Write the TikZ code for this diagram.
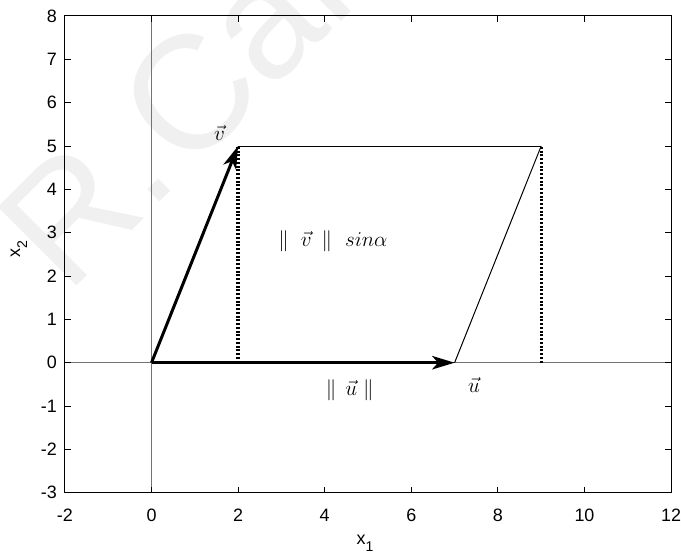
\documentclass[tikz,border=0pt]{standalone}
\usepackage{fontspec}
\newfontfamily\plotfont{Liberation Sans}
\usetikzlibrary{arrows.meta}
\begin{document}
\begin{tikzpicture}[x=0.866cm,y=0.8668cm,
  vecline/.style={line width=0.06cm,-{Stealth[length=0.45cm,width=0.27cm,inset=0.12cm]}},
  thinline/.style={line width=0.02cm},
  axisline/.style={line width=0.02cm,black!55},
  dotline/.style={line width=0.065cm,dash pattern=on 0.04cm off 0.035cm},
  ticklab/.style={font=\plotfont\fontsize{10.2}{12}\selectfont,inner sep=0pt},
  mathlab/.style={font=\fontsize{13}{15}\selectfont,inner sep=0pt},
  wmark/.style={rotate=45,anchor=base west,text=black!6,inner sep=0pt,font=\plotfont\fontsize{92}{96}\selectfont}]
\useasboundingbox (-3.499,-4.414) rectangle (12.229,8.369);
% watermark
\node[wmark] (wm) at (-1.95,1.55) {R.\kern0.05em Car};
% named points
\coordinate (O) at (0,0);
\coordinate (U) at (7,0);
\coordinate (V) at (2,5);
\coordinate (W) at (9,5);
\coordinate (A) at (2,0);
\coordinate (B) at (9,0);
\coordinate (XL) at (-2,0);
\coordinate (XR) at (12,0);
\coordinate (YB) at (0,-3);
\coordinate (YT) at (0,8);
% zero axes
\draw[axisline] (XL) -- (XR);
\draw[axisline] (YB) -- (YT);
% parallelogram
\draw[thinline] (V) -- (W);
\draw[thinline] (U) -- (W);
\draw[dotline] (A) -- (V);
\draw[dotline] (B) -- (W);
% vectors
\draw[vecline] (O) -- (U);
\draw[vecline] (O) -- (V);
% labels
\node[mathlab] (lv) at (1.57,5.3) {$\vec{v}$};
\node[mathlab] (lu) at (7.45,-0.52) {$\vec{u}$};
\node[mathlab] (lnu) at (4.58,-0.63) {$\|\hspace{0.18cm}\vec{u}\hspace{0.12cm}\|$};
\node[mathlab] (lnv) at (4.19,2.81) {$\|\hspace{0.24cm}\vec{v}\hspace{0.2cm}\|\hspace{0.26cm}sin\alpha$};
% frame and ticks
\draw[line width=0.02cm] (-2,-3) rectangle (12,8);
\foreach \xv in {-2,0,...,12} {
  \draw[line width=0.02cm] (\xv,-3) -- ++(0,0.14);
  \draw[line width=0.02cm] (\xv,8) -- ++(0,-0.14);
  \node[ticklab,anchor=north] (tx\xv) at (\xv,-3.376) {\xv};
}
\foreach \yv in {-3,...,8} {
  \draw[line width=0.02cm] (-2,\yv) -- ++(0.14,0);
  \draw[line width=0.02cm] (12,\yv) -- ++(-0.14,0);
  \node[ticklab,anchor=east] (ty\yv) at (-2.18,\yv) {\yv};
}
% axis labels
\node[ticklab,anchor=base] (xlab) at (4.93,-4.2) {x\raisebox{-0.14cm}{\fontsize{8}{9}\selectfont 1}};
\node[ticklab,anchor=base,rotate=90] (ylab) at (-3.037,2.62) {x\raisebox{-0.14cm}{\fontsize{8}{9}\selectfont 2}};
\end{tikzpicture}
\end{document}
